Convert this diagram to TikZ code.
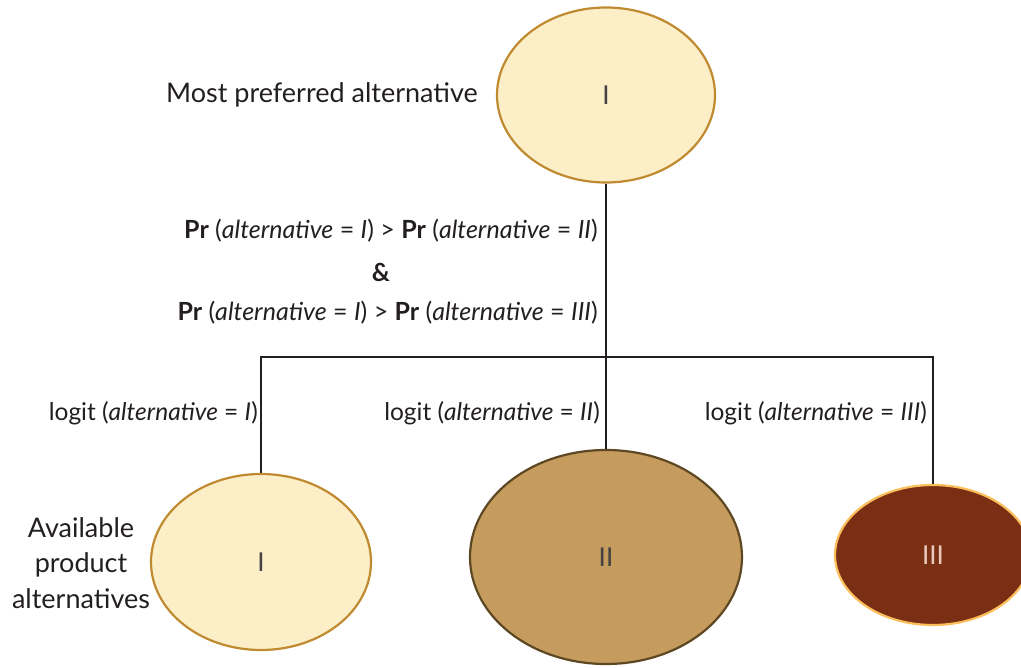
\documentclass[tikz,border=0pt]{standalone}
\usepackage{fontspec}
\setmainfont{Lato}
\usepackage{tikz}
\usetikzlibrary{shapes.geometric, positioning}
\definecolor{mydark}{RGB}{35,31,32}
\definecolor{mycream}{RGB}{252,239,199}
\definecolor{mygold}{RGB}{192,138,48}
\definecolor{mytan}{RGB}{198,156,94}
\definecolor{mybrown}{RGB}{94,72,35}
\definecolor{mymaroon}{RGB}{122,46,20}
\definecolor{myapricot}{RGB}{250,190,90}
\definecolor{mypink}{RGB}{235,200,190}
\tikzset{
  creamalt/.style={ellipse, draw=mygold, fill=mycream, line width=2.2pt, inner sep=0pt,
    font=\fontsize{26}{28}\selectfont, text=mydark!85},
  tanalt/.style={ellipse, draw=mybrown, fill=mytan, line width=2.2pt, inner sep=0pt,
    font=\fontsize{26}{28}\selectfont, text=mydark!85},
  maroonalt/.style={ellipse, draw=myapricot, fill=mymaroon, line width=2.2pt, inner sep=0pt,
    font=\fontsize{26}{28}\selectfont, text=mypink},
  prlabel/.style={font=\fontsize{25}{28}\selectfont, text=mydark, inner sep=0pt},
  logitlabel/.style={font=\fontsize{24.5}{28}\selectfont, text=mydark, inner sep=0pt, anchor=east},
  sidelabel/.style={font=\fontsize{27}{35.5}\selectfont, text=mydark, align=center, inner sep=0pt},
  line/.style={line width=1.5pt, color=mydark}
}

\begin{document}
\begin{tikzpicture}[x=1pt, y=-1pt]
  \useasboundingbox (0,0) rectangle (1021,668);
  \clip (0,0) rectangle (1021,668);
  % top: most preferred alternative
  \node[creamalt, minimum width=218pt, minimum height=175pt] (top) at (606,95) {I};
  \node[sidelabel, anchor=east] (toplbl) at (478,95) {Most preferred alternative};
  % bottom: available alternatives
  \node[creamalt, minimum width=220pt, minimum height=176pt] (altI) at (261,562) {I};
  \node[tanalt, minimum width=272pt, minimum height=214pt] (altII) at (606,557) {II};
  \node[maroonalt, minimum width=196pt, minimum height=140pt] (altIII) at (933,555) {III};
  \node[sidelabel] (botlbl) at (81,563) {Available\\product\\alternatives};
  % tree
  \coordinate (split) at (606,357);
  \draw[line] (top) -- (split);
  \draw[line] (altI.north) |- (split) -| (altIII.north);
  \draw[line] (split) -- (altII.north);
  % conditions
  \node[prlabel, anchor=east] (pr1) at (598,231) {\textbf{Pr} (\textit{alternative} = \textit{I}) > \textbf{Pr} (\textit{alternative} = \textit{II})};
  \node[prlabel] (amp) at (381,272) {\textbf{\&}};
  \node[prlabel, anchor=east] (pr2) at (598,313) {\textbf{Pr} (\textit{alternative} = \textit{I}) > \textbf{Pr} (\textit{alternative} = \textit{III})};
  \node[logitlabel] (lgI) at (258,413) {logit (\textit{alternative} = \textit{I})};
  \node[logitlabel] (lgII) at (600,413) {logit (\textit{alternative} = \textit{II})};
  \node[logitlabel] (lgIII) at (927,413) {logit (\textit{alternative} = \textit{III})};
\end{tikzpicture}
\end{document}
